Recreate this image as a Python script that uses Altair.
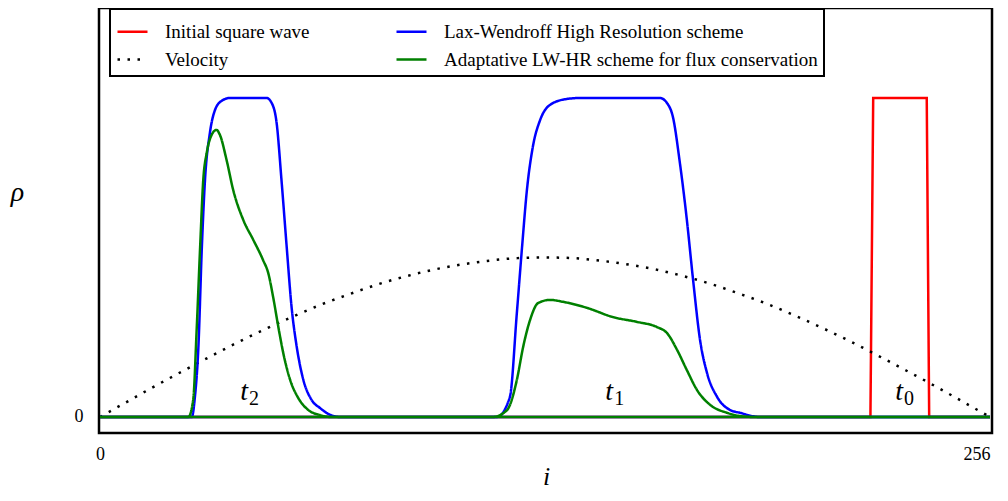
import altair as alt
import pandas as pd

series_names = [
    "Initial square wave",
    "Velocity",
    "Lax-Wendroff High Resolution scheme",
    "Adaptative LW-HR scheme for flux conservation",
]
series_colors = ["#ff0000", "#000000", "#0000ff", "#008000"]
series_dash = [[1, 0], [2.5, 7.5], [1, 0], [1, 0]]

# Initial square wave (t0)
square_i = [0, 221.6, 222.4, 237.8, 238.5, 256]
square_rho = [0, 0, 1, 1, 0, 0]

# Velocity profile
velocity_i = [0, 8, 16, 24, 32, 40, 48, 56, 64, 72, 80, 88, 96, 104, 112, 120, 128,
              136, 144, 152, 160, 168, 176, 184, 192, 200, 208, 216, 224, 232, 240, 248, 256]
velocity_rho = [0, 0.049, 0.098, 0.145, 0.191, 0.236, 0.278, 0.317, 0.354, 0.386, 0.416,
                0.441, 0.462, 0.478, 0.490, 0.498, 0.500, 0.498, 0.490, 0.478, 0.462,
                0.441, 0.416, 0.386, 0.354, 0.317, 0.278, 0.236, 0.191, 0.145, 0.098,
                0.049, 0]

# Lax-Wendroff high resolution scheme, snapshot t2
lw_t2_i = [0, 26.4, 27.3, 28.3, 29.3, 30.2, 31.6, 33.1, 35.0, 37.4, 47.9, 49.4, 50.8, 52.2,
           53.7, 55.1, 56.6, 58.5, 60.9, 63.3, 65.6, 69.0, 256]
lw_t2_rho = [0, 0, 0.063, 0.219, 0.533, 0.743, 0.890, 0.963, 0.991, 1.0, 1.0, 0.984, 0.922,
             0.743, 0.533, 0.345, 0.219, 0.116, 0.053, 0.028, 0.010, 0, 0]
# Lax-Wendroff high resolution scheme, snapshot t1
lw_t1_i = [0, 114.2, 117.9, 119.9, 121.4, 122.8, 124.5, 126.6, 129.4, 134.3, 138.1, 161.1,
           163.1, 164.8, 166.8, 168.8, 170.6, 172.6, 174.6, 177.5, 181.2, 184.1, 189.8, 256]
lw_t1_rho = [0, 0, 0.063, 0.326, 0.533, 0.712, 0.847, 0.931, 0.978, 0.997, 1.0, 1.0,
             0.984, 0.940, 0.796, 0.618, 0.429, 0.241, 0.138, 0.063, 0.022, 0.013, 0, 0]

# Adaptative LW-HR scheme, snapshot t2
adapt_t2_i = [0, 25.4, 26.8, 27.8, 28.8, 29.7, 30.7, 32.1, 33.5, 34.5, 36.4, 38.3, 41.2,
              44.1, 46.9, 48.4, 49.8, 51.3, 52.7, 54.7, 57.0, 59.9, 63.3, 66.2, 256]
adapt_t2_rho = [0, 0, 0.053, 0.273, 0.533, 0.743, 0.828, 0.884, 0.900, 0.884, 0.806, 0.712,
                0.618, 0.555, 0.492, 0.451, 0.376, 0.282, 0.201, 0.116, 0.060, 0.022,
                0.006, 0, 0]
# Adaptative LW-HR scheme, snapshot t1
adapt_t1_i = [0, 113.0, 117.1, 119.9, 121.7, 123.7, 126.0, 129.4, 133.2, 140.1, 147.6,
              154.5, 160.2, 163.1, 166.0, 168.8, 171.7, 175.5, 180.4, 184.1, 188.4, 256]
adapt_t1_rho = [0, 0, 0.022, 0.116, 0.219, 0.304, 0.357, 0.367, 0.361, 0.342, 0.313,
                0.298, 0.282, 0.263, 0.210, 0.147, 0.085, 0.038, 0.013, 0.003, 0, 0]

# Time annotations
label_main = ["t", "t", "t"]
label_sub = ["0", "1", "2"]
label_i = [231.0, 147.6, 42.6]
label_rho = [0.053, 0.053, 0.053]

SERIF = "Liberation Serif"

frames = []
for name, snap, xs, ys in [
    (series_names[0], "t0", square_i, square_rho),
    (series_names[1], "all", velocity_i, velocity_rho),
    (series_names[2], "t2", lw_t2_i, lw_t2_rho),
    (series_names[2], "t1", lw_t1_i, lw_t1_rho),
    (series_names[3], "t2", adapt_t2_i, adapt_t2_rho),
    (series_names[3], "t1", adapt_t1_i, adapt_t1_rho),
]:
    frames.append(pd.DataFrame({"i": xs, "rho": ys, "series": name, "snapshot": snap}))
df = pd.concat(frames, ignore_index=True)
labels = pd.DataFrame({"i": label_i, "rho": label_rho, "main": label_main, "sub": label_sub})

legend_spec = alt.Legend(title=None)

x_enc = alt.X(
    "i:Q",
    scale=alt.Scale(domain=[-0.288, 256.57], nice=False, zero=False),
    axis=alt.Axis(
        values=[0, 256], domain=False, ticks=False, tickSize=0, grid=False,
        labelFont=SERIF, labelFontSize=18, labelPadding=12, labelFlush=False,
        labelAlign={"expr": "datum.value > 200 ? 'right' : 'center'"},
        labelColor="black",
        title="i", titleFont=SERIF, titleFontSize=26, titleFontStyle="italic",
        titleFontWeight="normal", titleX=447, titleY=51, titleAlign="center",
        titleBaseline="alphabetic", titleColor="black",
    ),
)
y_enc = alt.Y(
    "rho:Q",
    scale=alt.Scale(domain=[-0.0502, 1.2821], nice=False, zero=False),
    axis=alt.Axis(
        values=[0], format="d", domain=False, ticks=False, tickSize=0, grid=False,
        labelFont=SERIF, labelFontSize=18, labelPadding=16, labelColor="black",
        title="ρ", titleFont=SERIF, titleFontSize=28, titleFontStyle="italic",
        titleFontWeight="normal", titleAngle=0, titleX=-82, titleY=192,
        titleAlign="center", titleBaseline="alphabetic", titleColor="black",
    ),
)
color_enc = alt.Color(
    "series:N",
    scale=alt.Scale(domain=series_names, range=series_colors),
    legend=legend_spec,
)
dash_enc = alt.StrokeDash(
    "series:N",
    scale=alt.Scale(domain=series_names, range=series_dash),
    legend=legend_spec,
)

base = alt.Chart(df)


def series_layer(name, interp):
    return base.mark_line(strokeWidth=2.5, interpolate=interp, strokeCap="butt").encode(
        x=x_enc, y=y_enc, color=color_enc, strokeDash=dash_enc, detail="snapshot:N"
    ).transform_filter(alt.datum.series == name)


red = series_layer(series_names[0], "linear")
vel = series_layer(series_names[1], "monotone")
blue = series_layer(series_names[2], "monotone")
green = series_layer(series_names[3], "monotone")

tmain = alt.Chart(labels).mark_text(
    font=SERIF, fontSize=28, fontStyle="italic", align="right", baseline="alphabetic",
    color="black",
).encode(x=alt.X("i:Q"), y=alt.Y("rho:Q"), text="main:N")
tsub = alt.Chart(labels).mark_text(
    font=SERIF, fontSize=20, align="left", baseline="alphabetic", dy=5, dx=1,
    color="black",
).encode(x=alt.X("i:Q"), y=alt.Y("rho:Q"), text="sub:N")

chart = alt.layer(red, vel, blue, green, tmain, tsub).properties(
    width=893,
    height=425,
    padding={"left": 91, "top": 0, "right": 8, "bottom": 60},
    autosize=alt.AutoSizeParams(type="none"),
    background="white",
).configure_view(
    stroke="black", strokeWidth=2.5
).configure_legend(
    orient="none", legendX=11, legendY=1, columns=2, symbolType="stroke",
    symbolSize=900, symbolStrokeWidth=2.5, labelFont=SERIF, labelFontSize=19,
    labelColor="black", labelOffset=16, labelLimit=600, strokeColor="black",
    strokeWidth=2, fillColor="white", padding=6, cornerRadius=0,
    rowPadding=1, columnPadding=81,
)

chart.save("out.html", embed_options={"renderer": "svg", "actions": False})
